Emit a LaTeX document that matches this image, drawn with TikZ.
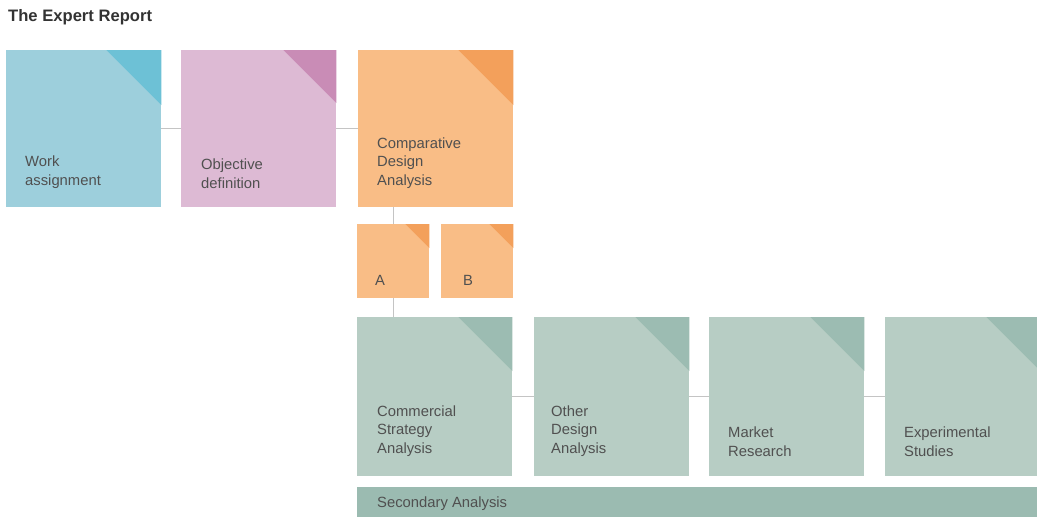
\documentclass[tikz,border=0pt]{standalone}
\usepackage{fontspec}
\setmainfont{Liberation Sans}
\definecolor{cblue}{HTML}{9DCFDC}
\definecolor{cbluetri}{HTML}{6DC1D6}
\definecolor{cpink}{HTML}{DDBAD4}
\definecolor{cpinktri}{HTML}{C98CB6}
\definecolor{corange}{HTML}{F9BD86}
\definecolor{corangetri}{HTML}{F3A05B}
\definecolor{cgreen}{HTML}{B7CDC4}
\definecolor{cgreentri}{HTML}{9CBCB2}
\definecolor{cbar}{HTML}{9BBBB1}
\definecolor{ctext}{HTML}{505050}
\definecolor{cline}{HTML}{C4C4C4}
\tikzset{
  box/.style={draw=none, inner sep=0pt, anchor=north west, minimum width=155, minimum height=157},
  smallbox/.style={draw=none, inner sep=0pt, anchor=north west, minimum width=72, minimum height=74},
  lbl/.style={anchor=south west, inner sep=0pt, text=ctext, font=\fontsize{14.8}{18.3}\selectfont, align=left},
  conn/.style={draw=cline, line width=1.2pt},
}
\newcommand{\corner}[3]{\fill[#2] (#1.north east) -- ++(-#3,0) -- ++(#3,#3) -- cycle;}
\begin{document}
\begin{tikzpicture}[x=1pt,y=-1pt]
\clip (0,0) rectangle (1037,517);
\fill[white] (0,0) rectangle (1037,517);
\node[anchor=west, inner sep=0pt, text=black!80, font=\bfseries\fontsize{16.6}{18}\selectfont] (title) at (8,17) {The Expert Report};

% top row
\node[box, fill=cblue] (wa) at (6,50) {};
\node[box, fill=cpink] (od) at (181,50) {};
\node[box, fill=corange] (cda) at (358,50) {};
\corner{wa}{cbluetri}{55}
\corner{od}{cpinktri}{53}
\corner{cda}{corangetri}{55}
\node[lbl] (wat) at ([shift={(19,-19)}]wa.south west) {Work\\assignment};
\node[lbl] (odt) at ([shift={(20,-19)}]od.south west) {Objective\\definition};
\node[lbl] (cdat) at ([shift={(19,-19)}]cda.south west) {Comparative\\Design\\Analysis};

% A / B
\node[smallbox, fill=corange] (a) at (357,224) {};
\node[smallbox, fill=corange] (b) at (441,224) {};
\corner{a}{corangetri}{24}
\corner{b}{corangetri}{24}
\node[lbl] (at) at ([shift={(18,-13)}]a.south west) {A};
\node[lbl] (bt) at ([shift={(22,-13)}]b.south west) {B};

% green row
\node[box, fill=cgreen, minimum height=159] (csa) at (357,317) {};
\node[box, fill=cgreen, minimum height=159] (oda) at (534,317) {};
\node[box, fill=cgreen, minimum height=159] (mr) at (709,317) {};
\node[box, fill=cgreen, minimum height=159] (es) at (885,317) {};
\corner{csa}{cgreentri}{54}
\corner{oda}{cgreentri}{54}
\corner{mr}{cgreentri}{54}
\corner{es}{cgreentri}{54}
\node[lbl] (csat) at ([shift={(20,-20)}]csa.south west) {Commercial\\Strategy\\Analysis};
\node[lbl] (odat) at ([shift={(17,-20)}]oda.south west) {Other\\Design\\Analysis};
\node[lbl] (mrt) at ([shift={(19,-20)}]mr.south west) {Market\\Research};
\node[lbl] (est) at ([shift={(19,-20)}]es.south west) {Experimental\\Studies};

% secondary bar
\node[draw=none, inner sep=0pt, anchor=north west, fill=cbar, minimum width=700, minimum height=40] (sa) at (357,487) {};
\node[anchor=west, inner sep=0pt, text=ctext, font=\fontsize{14.8}{18}\selectfont] (sat) at (377,504) {Secondary Analysis};

% connectors
\draw[conn] (wa.east) -- (od.west);
\draw[conn] (od.east) -- (cda.west);
\draw[conn] (a.north) -- (a.north |- cda.south);
\draw[conn] (a.south) -- (a.south |- csa.north);
\draw[conn] (csa.east) -- (oda.west);
\draw[conn] (oda.east) -- (mr.west);
\draw[conn] (mr.east) -- (es.west);
\end{tikzpicture}
\end{document}
